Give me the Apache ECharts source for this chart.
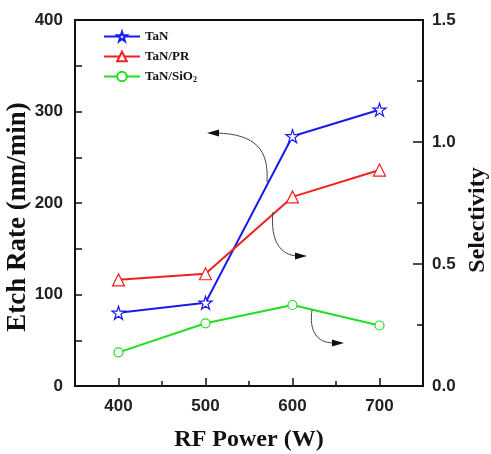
<!DOCTYPE html>
<html><head><meta charset="utf-8">
<script src="https://cdn.jsdelivr.net/npm/echarts@6/dist/echarts.min.js"></script>
<style>html,body{margin:0;padding:0;background:#fff}#c{width:491px;height:454px}</style>
</head><body><div id="c"></div>
<script>
const powers = [400, 500, 600, 700];
const tanRate = [80, 91, 273, 302];
const tanPR = [0.435, 0.46, 0.775, 0.885];
const tanSiO2 = [0.138, 0.257, 0.332, 0.248];
const names = ['TaN', 'TaN/PR', 'TaN/SiO2'];
const xMajorTicks = [400, 500, 600, 700];
const xMinorTicks = [450, 550, 650];

const star = 'path://M50,2 L61,36 L97,36 L68,57 L79,92 L50,71 L21,92 L32,57 L3,36 L39,36 Z';
const serif = 'Liberation Serif';
const sans = 'Liberation Sans';

const chart = echarts.init(document.getElementById('c'));
function pairs(v){ return powers.map((p,i)=>[p, v[i]]); }
function mkSeries(name, data, color, symbol, axis, size){
  return {name, type:'line', yAxisIndex:axis, data:pairs(data), symbol, symbolSize:size,
    showAllSymbol:true,
    lineStyle:{color, width:2}, itemStyle:{color:'#fff', borderColor:color, borderWidth:1.2},
    emphasis:{disabled:true}, z:3};
}
const axisLine = {show:true, lineStyle:{color:'#111', width:2}};
const labelStyle = {fontFamily:sans, fontWeight:'bold', fontSize:17, color:'#222'};
const nameStyle = {fontFamily:serif, fontWeight:'bold', fontSize:24, color:'#111'};
chart.setOption({
  animation:false,
  grid:{left:75, right:68, top:20, bottom:68, containLabel:false, outerBoundsMode:'none',
    show:true, borderColor:'#111', borderWidth:2, backgroundColor:'transparent'},
  legend:{
    orient:'vertical', left:98, top:25, itemGap:7, itemWidth:36, itemHeight:12,
    data:names,
    textStyle:{fontFamily:serif, fontWeight:'bold', fontSize:13, color:'#111',
      rich:{sub:{fontSize:8, fontFamily:serif, fontWeight:'bold', verticalAlign:'bottom', padding:[7,0,0,0]}}},
    formatter: n => n === 'TaN/SiO2' ? 'TaN/SiO{sub|2}' : n
  },
  xAxis:[
    {type:'value', min:350, max:750, interval:50,
      name:'RF Power (W)', nameLocation:'middle', nameGap:42, nameMoveOverlap:false, nameTextStyle:nameStyle,
      axisLine, splitLine:{show:false},
      axisTick:{show:true, inside:true, length:8, customValues:xMajorTicks, lineStyle:{color:'#111', width:1.5}},
      axisLabel:Object.assign({}, labelStyle, {margin:12, customValues:xMajorTicks})},
    {type:'value', min:350, max:750, interval:50, position:'bottom',
      axisLine:{show:false}, splitLine:{show:false}, axisLabel:{show:false},
      axisTick:{show:true, inside:true, length:5, customValues:xMinorTicks, lineStyle:{color:'#111', width:1.5}}}
  ],
  yAxis:[
    {type:'value', min:0, max:400, interval:100,
      name:'Etch Rate (nm/min)', nameLocation:'middle', nameGap:43, nameMoveOverlap:false,
      nameTextStyle:Object.assign({}, nameStyle, {fontSize:27, padding:[0,28,0,0]}),
      axisLine, splitLine:{show:false},
      axisTick:{show:true, inside:true, length:7, lineStyle:{color:'#111', width:1.5}},
      minorTick:{show:true, splitNumber:2, length:7, lineStyle:{color:'#111', width:1.5}},
      axisLabel:Object.assign({}, labelStyle, {margin:12})},
    {type:'value', min:0, max:1.5, interval:0.5, position:'right',
      name:'Selectivity', nameLocation:'middle', nameGap:43, nameRotate:90, nameMoveOverlap:false,
      nameTextStyle:Object.assign({}, nameStyle, {padding:[0,34,0,0]}),
      axisLine, splitLine:{show:false},
      axisTick:{show:true, inside:true, length:10, lineStyle:{color:'#111', width:1.5}},
      minorTick:{show:true, splitNumber:2, length:6, lineStyle:{color:'#111', width:1.5}},
      axisLabel:Object.assign({}, labelStyle, {margin:9, formatter:v=>v.toFixed(1)})}
  ],
  series:[
    mkSeries(names[0], tanRate, '#1a1aee', star, 0, 13),
    mkSeries(names[1], tanPR, '#f02020', 'triangle', 1, 12),
    mkSeries(names[2], tanSiO2, '#22dd22', 'circle', 1, 9)
  ],
  graphic:[
    {type:'bezierCurve', shape:{x1:267,y1:182,cpx1:269,cpy1:150,cpx2:256,cpy2:134,x2:216,y2:133}, style:{stroke:'#444', lineWidth:1, fill:null}, z:5},
    {type:'polygon', shape:{points:[[207,133],[219,129.5],[219,136.5]]}, style:{fill:'#111'}, z:5},
    {type:'bezierCurve', shape:{x1:273,y1:212,cpx1:270,cpy1:240,cpx2:280,cpy2:255,x2:297,y2:256}, style:{stroke:'#444', lineWidth:1, fill:null}, z:5},
    {type:'polygon', shape:{points:[[307,256],[295,252.5],[295,259.5]]}, style:{fill:'#111'}, z:5},
    {type:'bezierCurve', shape:{x1:312,y1:310,cpx1:309,cpy1:330,cpx2:316,cpy2:343,x2:334,y2:343}, style:{stroke:'#444', lineWidth:1, fill:null}, z:5},
    {type:'polygon', shape:{points:[[344,343],[332,339.5],[332,346.5]]}, style:{fill:'#111'}, z:5}
  ]
});
</script></body></html>
